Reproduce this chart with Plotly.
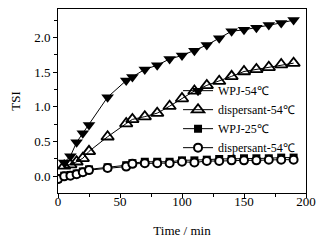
import plotly.graph_objects as go

time_wpj54 = [5, 10, 15, 20, 25, 40, 55, 60, 70, 80, 90, 100, 110, 120, 130, 140, 150, 160, 170, 180, 190]
tsi_wpj54 = [0.20, 0.29, 0.49, 0.62, 0.74, 1.14, 1.38, 1.43, 1.54, 1.60, 1.69, 1.74, 1.81, 1.89, 1.99, 2.09, 2.11, 2.14, 2.18, 2.21, 2.25]

time_disp54 = [5, 10, 15, 20, 25, 40, 55, 60, 70, 80, 90, 100, 110, 120, 130, 140, 150, 160, 170, 180, 190]
tsi_disp54 = [0.15, 0.17, 0.21, 0.26, 0.36, 0.57, 0.76, 0.82, 0.86, 0.91, 1.01, 1.12, 1.23, 1.31, 1.37, 1.44, 1.51, 1.54, 1.57, 1.61, 1.63]

time_low = [0, 5, 10, 15, 20, 25, 40, 55, 60, 70, 80, 90, 100, 110, 120, 130, 140, 150, 160, 170, 180, 190]
tsi_wpj25 = [-0.03, 0.01, 0.02, 0.04, 0.07, 0.10, 0.13, 0.16, 0.19, 0.21, 0.21, 0.21, 0.23, 0.23, 0.24, 0.25, 0.25, 0.26, 0.26, 0.26, 0.27, 0.27]
tsi_disp_b = [-0.04, 0.00, 0.01, 0.03, 0.06, 0.09, 0.12, 0.14, 0.18, 0.19, 0.19, 0.19, 0.21, 0.20, 0.22, 0.22, 0.23, 0.23, 0.23, 0.24, 0.24, 0.24]

series_names = ["WPJ-54℃", "dispersant-54℃", "WPJ-25℃", "dispersant-54℃"]

FONT = "Liberation Serif, Times New Roman, serif"
fig = go.Figure()
fig.add_trace(go.Scatter(x=time_wpj54, y=tsi_wpj54, name=series_names[0], mode="lines+markers",
                         line=dict(color="black", width=1),
                         marker=dict(symbol="triangle-down", size=11, color="black")))
fig.add_trace(go.Scatter(x=time_disp54, y=tsi_disp54, name=series_names[1], mode="lines+markers",
                         line=dict(color="black", width=1),
                         marker=dict(symbol="triangle-up-open", size=11, color="black", line=dict(width=1.8))))
fig.add_trace(go.Scatter(x=time_low, y=tsi_wpj25, name=series_names[2], mode="lines+markers",
                         line=dict(color="black", width=1),
                         marker=dict(symbol="square", size=8, color="black")))
fig.add_trace(go.Scatter(x=time_low, y=tsi_disp_b, name=series_names[3], mode="lines+markers",
                         line=dict(color="black", width=1),
                         marker=dict(symbol="circle", size=8, color="white", line=dict(color="black", width=2))))

fig.update_layout(
    width=321, height=234, autosize=False,
    margin=dict(l=50, r=23, t=1, b=49, autoexpand=False),
    paper_bgcolor="white", plot_bgcolor="white",
    font=dict(family=FONT, size=12, color="black"),
    showlegend=True,
    legend=dict(x=0.484, y=0.635, xanchor="left", yanchor="top", bgcolor="rgba(0,0,0,0)",
                font=dict(family=FONT, size=12), tracegroupgap=0, itemwidth=30,
                borderwidth=0),
)
fig.update_xaxes(range=[0, 200], tickvals=[0, 50, 100, 150, 200], showgrid=False, zeroline=False,
                 automargin=True, ticklabelstandoff=-8,
                 showline=True, linecolor="black", linewidth=1, mirror=True,
                 ticks="outside", ticklen=4, tickcolor="black",
                 minor=dict(tickvals=[25, 75, 125, 175], ticks="outside", ticklen=3, tickcolor="black"),
                 title=dict(text="Time / min", font=dict(family=FONT, size=13), standoff=18),
                 tickfont=dict(family=FONT, size=13))
fig.update_yaxes(range=[-0.24, 2.41], tickvals=[0, 0.5, 1.0, 1.5, 2.0], tickformat=".1f",
                 showgrid=False, zeroline=False, automargin=True,
                 showline=True, linecolor="black", linewidth=1, mirror=True,
                 ticks="outside", ticklen=4, tickcolor="black",
                 minor=dict(tickvals=[-0.25, 0.25, 0.75, 1.25, 1.75, 2.25], ticks="outside", ticklen=3, tickcolor="black"),
                 title=dict(text="TSI", font=dict(family=FONT, size=13), standoff=15),
                 tickfont=dict(family=FONT, size=13))

fig.write_html("out.html")
